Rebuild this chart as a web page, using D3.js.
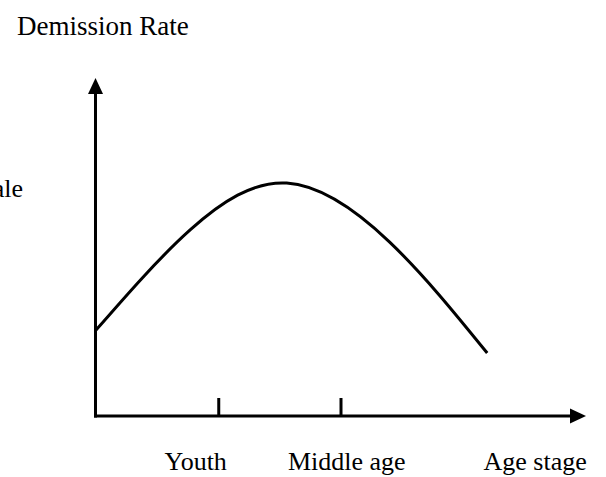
<meta charset="utf-8">
<head>
<script src="https://d3js.org/d3.v7.min.js"></script>
<style>
  body { margin: 0; background: #fff; }
  text { font-family: "Liberation Serif", "Times New Roman", serif; fill: #000; }
</style>
</head>
<body>
<div id="container"></div>
<script>

// age stage on x (0 = origin, 1 = youth, 2 = middle age), demission rate on y
var age  = [0, 0.77, 1.56, 2.4, 3.2];
var rate = [0.266, 0.576, 0.721, 0.539, 0.195];

var tickAges = [1, 2];
var tickLabels = ["Youth", "Middle age", "Age stage"];
var yTitle = "Demission Rate";
var sideLabel = "Female";

var width = 606, height = 477;
var x0 = 96, y0 = 416;

var svg = d3.select('#container')
  .append('svg')
  .attr('width', width)
  .attr('height', height);

var x = d3.scaleLinear().domain([0, 4]).range([x0, x0 + 489]);
var y = d3.scaleLinear().domain([0, 1]).range([y0, 93]);

// axes with arrow heads
svg.append('line')
  .attr('x1', x0 - 0.5).attr('y1', y0 + 1.5)
  .attr('x2', x0 - 0.5).attr('y2', 90)
  .attr('stroke', '#000').attr('stroke-width', 3);
svg.append('path')
  .attr('d', 'M' + (x0 - 0.5) + ',78 L' + (x0 + 7) + ',94 L' + (x0 - 8) + ',94 Z')
  .attr('fill', '#000');

svg.append('line')
  .attr('x1', x0 - 2).attr('y1', y0)
  .attr('x2', x(4) - 12).attr('y2', y0)
  .attr('stroke', '#000').attr('stroke-width', 3);
svg.append('path')
  .attr('d', 'M' + (x(4) + 1) + ',' + y0 + ' L' + (x(4) - 15) + ',' + (y0 - 7.5) + ' L' + (x(4) - 15) + ',' + (y0 + 7.5) + ' Z')
  .attr('fill', '#000');

// ticks pointing up
var xAxis = d3.axisBottom(x)
  .tickValues(tickAges)
  .tickSize(-19)
  .tickSizeOuter(0)
  .tickFormat('');

var gx = svg.append('g')
  .attr('transform', 'translate(0,' + (y0 + 1) + ')')
  .call(xAxis);
gx.select('.domain').remove();
gx.selectAll('.tick line').attr('stroke', '#000').attr('stroke-width', 3);

// labels below the axis (left edges)
var labelStart = [0.56, 1.57, 3.17];
svg.selectAll('.xlab')
  .data(tickLabels)
  .enter().append('text')
  .attr('class', 'xlab')
  .attr('x', function(d, i) { return x(labelStart[i]); })
  .attr('y', 470)
  .style('font-size', '26px')
  .text(function(d) { return d; });

svg.append('text')
  .attr('x', 17)
  .attr('y', 35)
  .style('font-size', '27px')
  .text(yTitle);

svg.append('text')
  .attr('x', 23)
  .attr('y', 197)
  .attr('text-anchor', 'end')
  .style('font-size', '26px')
  .text(sideLabel);

// curve
var line = d3.line()
  .x(function(d, i) { return x(age[i]); })
  .y(function(d) { return y(d); })
  .curve(d3.curveNatural);

svg.append('path')
  .datum(rate)
  .attr('d', line)
  .attr('fill', 'none')
  .attr('stroke', '#000')
  .attr('stroke-width', 3);

</script>
</body>
